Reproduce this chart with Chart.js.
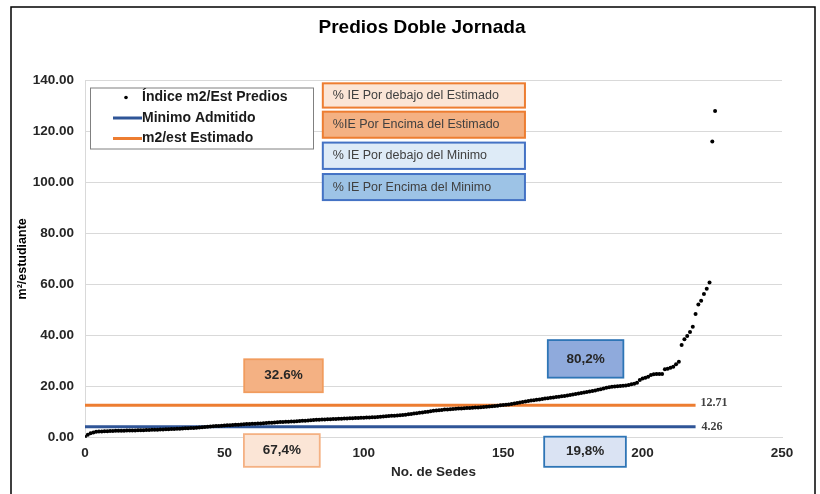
<!DOCTYPE html>
<html>
<head>
<meta charset="utf-8">
<title>Predios Doble Jornada</title>
<script src="https://cdn.jsdelivr.net/npm/chart.js@4.4.1/dist/chart.umd.min.js"></script>
<style>
  html, body { margin: 0; padding: 0; background: #fff; }
  canvas { display: block; }
</style>
</head>
<body>
<canvas id="prediosChart" width="820" height="494"></canvas>
<script>
// indice m2/estudiante de cada sede, ordenado de menor a mayor
const indicePredios = [
  0.3, 1.2, 1.7, 2.0, 2.3, 2.4, 2.45, 2.5, 2.55, 2.6,
  2.65, 2.68, 2.7, 2.72, 2.75, 2.78, 2.8, 2.82, 2.85, 2.88,
  2.9, 2.95, 3.0, 3.05, 3.1, 3.12, 3.15, 3.2, 3.25, 3.3,
  3.35, 3.4, 3.45, 3.5, 3.55, 3.6, 3.65, 3.7, 3.75, 3.8,
  3.88, 3.95, 4.05, 4.15, 4.28, 4.35, 4.45, 4.55, 4.62, 4.7,
  4.78, 4.85, 4.92, 5.0, 5.05, 5.1, 5.18, 5.25, 5.32, 5.4,
  5.45, 5.5, 5.55, 5.6, 5.68, 5.75, 5.82, 5.9, 5.98, 6.05,
  6.1, 6.15, 6.2, 6.25, 6.3, 6.38, 6.45, 6.52, 6.6, 6.68,
  6.75, 6.82, 6.9, 6.98, 7.05, 7.1, 7.15, 7.2, 7.25, 7.3,
  7.35, 7.4, 7.45, 7.5, 7.55, 7.6, 7.65, 7.7, 7.75, 7.8,
  7.85, 7.9, 7.95, 8.0, 8.05, 8.12, 8.2, 8.28, 8.36, 8.45,
  8.55, 8.62, 8.7, 8.8, 8.9, 9.0, 9.15, 9.3, 9.45, 9.6,
  9.75, 9.9, 10.05, 10.2, 10.35, 10.5, 10.62, 10.75, 10.88, 11.0,
  11.08, 11.15, 11.22, 11.3, 11.38, 11.45, 11.52, 11.58, 11.64, 11.7,
  11.78, 11.86, 11.94, 12.02, 12.1, 12.2, 12.3, 12.4, 12.55, 12.68,
  12.75, 12.85, 13.0, 13.2, 13.4, 13.6, 13.8, 14.0, 14.2, 14.4,
  14.55, 14.7, 14.85, 15.0, 15.15, 15.3, 15.45, 15.6, 15.75, 15.9,
  16.05, 16.2, 16.35, 16.5, 16.7, 16.9, 17.1, 17.3, 17.5, 17.7,
  17.9, 18.1, 18.3, 18.5, 18.75, 19.0, 19.3, 19.55, 19.75, 19.9,
  20.0, 20.1, 20.2, 20.3, 20.45,
  20.6, 20.9, 21.1, 21.5, 22.6, 23.2, 23.5, 23.9, 24.5, 24.8,
  24.9, 24.9, 24.9, 26.8, 27.0, 27.4, 27.8, 28.7, 29.7, 36.3,
  38.5, 39.8, 41.4, 43.4, 48.4, 52.1, 53.6, 56.2, 58.3, 60.7,
  115.9, 127.9
]

const minimoAdmitido = 4.26
const m2Estimado = 12.71
const tramoLineas = [0, 219]

const xTicks = [0, 50, 100, 150, 200, 250]
const yTicks = [0, 20, 40, 60, 80, 100, 120, 140]

const etiquetasCuadros = [
  '% IE Por debajo del Estimado',
  '%IE Por Encima del Estimado',
  '% IE Por debajo del Minimo',
  '% IE Por Encima del Minimo'
]
const porcentajes = ['32.6%', '67,4%', '80,2%', '19,8%']

const FONT = "'Liberation Sans', Arial, sans-serif"

// cuadros de texto, en unidades de los ejes
const cuadrosTexto = [
  { x0: 85.3, x1: 157.8, y0: 138.7, y1: 129.2, fill: '#FBE5D6', stroke: '#ED7D31' },
  { x0: 85.3, x1: 157.8, y0: 127.6, y1: 117.4, fill: '#F4B183', stroke: '#ED7D31' },
  { x0: 85.3, x1: 157.8, y0: 115.5, y1: 105.2, fill: '#DEEBF7', stroke: '#4472C4' },
  { x0: 85.3, x1: 157.8, y0: 103.2, y1: 93.0, fill: '#9DC3E6', stroke: '#4472C4' }
]
const cuadrosPct = [
  { x0: 57.1, x1: 85.3, y0: 30.7, y1: 17.8, fill: '#F4B183', stroke: '#F19C5E' },
  { x0: 57.0, x1: 84.2, y0: 1.4, y1: -11.4, fill: '#FBE5D6', stroke: '#F4B183' },
  { x0: 166.0, x1: 193.1, y0: 38.2, y1: 23.5, fill: '#8FAADC', stroke: '#2E75B6' },
  { x0: 164.7, x1: 194.0, y0: 0.4, y1: -11.4, fill: '#DAE3F3', stroke: '#2E75B6' }
]

function drawBox(ctx, x, y, b, lw) {
  const left = x.getPixelForValue(b.x0), right = x.getPixelForValue(b.x1)
  const top = y.getPixelForValue(b.y0), bottom = y.getPixelForValue(b.y1)
  ctx.fillStyle = b.fill
  ctx.fillRect(left, top, right - left, bottom - top)
  ctx.strokeStyle = b.stroke
  ctx.lineWidth = lw
  ctx.strokeRect(left, top, right - left, bottom - top)
  return { left, right, top, bottom }
}

const decorPlugin = {
  id: 'decor',
  afterDraw(chart) {
    const { ctx, chartArea, scales: { x, y } } = chart
    ctx.save()

    // marco exterior
    ctx.strokeStyle = '#000'
    ctx.lineWidth = 1.5
    ctx.strokeRect(11, 7, 804, 500)

    // titulo
    ctx.fillStyle = '#000'
    ctx.font = 'bold 19px ' + FONT
    ctx.textAlign = 'center'
    ctx.textBaseline = 'middle'
    ctx.fillText('Predios Doble Jornada', 422, 28)

    // valores de las lineas de referencia
    ctx.font = "bold 12px 'Liberation Serif', 'Times New Roman', serif"
    ctx.fillStyle = '#404040'
    ctx.textAlign = 'left'
    ctx.fillText(m2Estimado.toFixed(2), x.getPixelForValue(tramoLineas[1]) + 5, y.getPixelForValue(m2Estimado) - 2)
    ctx.fillText(minimoAdmitido.toFixed(2), x.getPixelForValue(tramoLineas[1]) + 6, y.getPixelForValue(minimoAdmitido))

    // leyenda
    const lx = chartArea.left + 5, ly = chartArea.top + 7.5
    ctx.fillStyle = '#fff'
    ctx.fillRect(lx, ly, 223, 61)
    ctx.strokeStyle = '#808080'
    ctx.lineWidth = 1
    ctx.strokeRect(lx + 0.5, ly + 0.5, 223, 61)
    ctx.font = 'bold 14px ' + FONT
    ctx.textAlign = 'left'
    ctx.textBaseline = 'middle'
    chart.data.datasets.forEach((ds, i) => {
      const ry = ly + 10 + i * 20.5
      if (ds.type === 'line') {
        ctx.strokeStyle = ds.borderColor
        ctx.lineWidth = 3
        ctx.beginPath()
        ctx.moveTo(lx + 23, ry)
        ctx.lineTo(lx + 52, ry)
        ctx.stroke()
      } else {
        ctx.fillStyle = '#000'
        ctx.beginPath()
        ctx.arc(lx + 36, ry, 1.8, 0, Math.PI * 2)
        ctx.fill()
      }
      ctx.fillStyle = '#1a1a1a'
      ctx.fillText(ds.label, lx + 52, ry)
    })

    // cuadros de texto
    ctx.font = '12.5px ' + FONT
    cuadrosTexto.forEach((b, i) => {
      const r = drawBox(ctx, x, y, b, 2)
      ctx.fillStyle = '#404040'
      ctx.textAlign = 'left'
      ctx.fillText(etiquetasCuadros[i], r.left + 10, (r.top + r.bottom) / 2)
    })

    // cuadros de porcentajes
    ctx.font = 'bold 13.5px ' + FONT
    cuadrosPct.forEach((b, i) => {
      const r = drawBox(ctx, x, y, b, 1.8)
      ctx.fillStyle = '#262626'
      ctx.textAlign = 'center'
      ctx.fillText(porcentajes[i], (r.left + r.right) / 2, (r.top + r.bottom) / 2)
    })

    ctx.restore()
  }
}

new Chart(document.getElementById('prediosChart'), {
  type: 'scatter',
  data: {
    datasets: [
      {
        label: 'Índice m2/Est Predios',
        data: indicePredios.map((v, i) => ({ x: i, y: v })),
        pointRadius: 2,
        pointBackgroundColor: '#000',
        pointBorderWidth: 0,
        showLine: false
      },
      {
        type: 'line',
        label: 'Minimo Admitido',
        data: tramoLineas.map(v => ({ x: v, y: minimoAdmitido })),
        borderColor: '#2F5597',
        borderWidth: 3,
        pointRadius: 0
      },
      {
        type: 'line',
        label: 'm2/est Estimado',
        data: tramoLineas.map(v => ({ x: v, y: m2Estimado })),
        borderColor: '#ED7D31',
        borderWidth: 3,
        pointRadius: 0
      }
    ]
  },
  options: {
    responsive: false,
    animation: false,
    devicePixelRatio: 1,
    layout: {
      padding: { top: 80, right: 38, bottom: 0, left: 0 }
    },
    plugins: {
      legend: { display: false },
      title: { display: false },
      tooltip: { enabled: false }
    },
    scales: {
      x: {
        type: 'linear',
        min: 0,
        max: 250,
        afterBuildTicks: (scale) => { scale.ticks = xTicks.map(v => ({ value: v })) },
        afterFit: (scale) => { scale.height = 56.3 },
        grid: { display: false, drawTicks: false },
        border: { color: '#d9d9d9' },
        ticks: {
          padding: 7,
          color: '#262626',
          font: { family: FONT, size: 13.5, weight: 'bold' }
        },
        title: {
          display: true,
          text: 'No. de Sedes',
          color: '#262626',
          padding: { top: 0, bottom: 14 },
          font: { family: FONT, size: 13.5, weight: 'bold' }
        }
      },
      y: {
        min: 0,
        max: 140,
        afterBuildTicks: (scale) => { scale.ticks = yTicks.map(v => ({ value: v })) },
        afterFit: (scale) => { scale.width = 85 },
        grid: { color: '#d9d9d9', drawTicks: false },
        border: { color: '#d9d9d9' },
        ticks: {
          padding: 11,
          color: '#262626',
          font: { family: FONT, size: 13.5, weight: 'bold' },
          callback: (v) => v.toFixed(2)
        },
        title: {
          display: true,
          text: 'm²/estudiante',
          color: '#000',
          padding: { top: 15, bottom: 0 },
          font: { family: FONT, size: 12.5, weight: 'bold' }
        }
      }
    }
  },
  plugins: [decorPlugin]
})
</script>
</body>
</html>
